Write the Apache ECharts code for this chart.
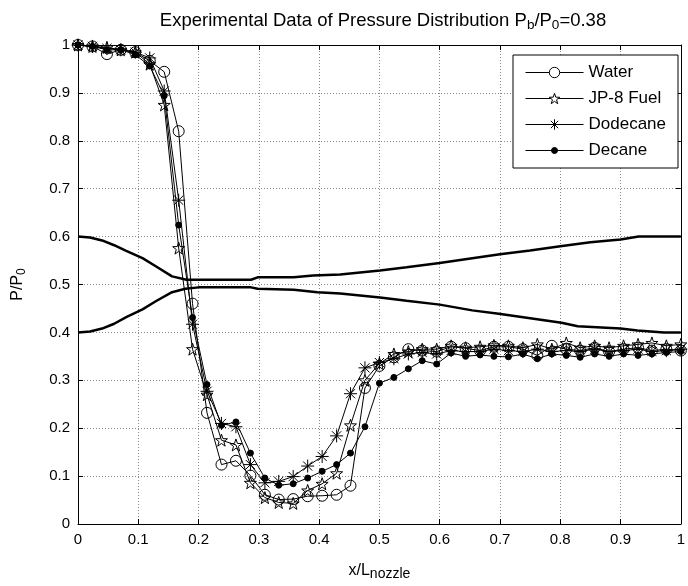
<!DOCTYPE html>
<html>
<head>
<meta charset="utf-8">
<script src="https://cdn.jsdelivr.net/npm/echarts@6/dist/echarts.min.js"></script>
<style>
  html, body { margin: 0; padding: 0; background: #fff; }
  #chart { width: 688px; height: 586px; }
</style>
</head>
<body>
<div id="chart"></div>
<script>
// measuring stations along the nozzle (x/L)
const stations = [0, 0.024, 0.048, 0.071, 0.095, 0.119, 0.143, 0.167, 0.190, 0.214,
  0.238, 0.262, 0.286, 0.310, 0.333, 0.357, 0.381, 0.405, 0.429, 0.452,
  0.476, 0.500, 0.524, 0.548, 0.571, 0.595, 0.619, 0.643, 0.667, 0.690,
  0.714, 0.738, 0.762, 0.786, 0.810, 0.833, 0.857, 0.881, 0.905, 0.929,
  0.952, 0.976, 1.000];

const water = [1.0, 0.997, 0.981, 0.99, 0.985, 0.967, 0.944, 0.82, 0.46, 0.232,
  0.124, 0.132, 0.101, 0.061, 0.051, 0.052, 0.058, 0.059, 0.061, 0.080,
  0.284, 0.330, 0.348, 0.365, 0.362, 0.360, 0.370, 0.367, 0.362, 0.370,
  0.370, 0.365, 0.352, 0.372, 0.365, 0.362, 0.368, 0.360, 0.365, 0.368,
  0.362, 0.365, 0.362];

const jp8 = [1.0, 0.997, 0.995, 0.99, 0.985, 0.96, 0.875, 0.576, 0.365, 0.27,
  0.175, 0.165, 0.086, 0.055, 0.045, 0.043, 0.070, 0.084, 0.106, 0.206,
  0.30, 0.335, 0.355, 0.36, 0.365, 0.365, 0.372, 0.368, 0.370, 0.373,
  0.372, 0.368, 0.375, 0.365, 0.378, 0.368, 0.372, 0.368, 0.372, 0.375,
  0.378, 0.372, 0.375];

const dodecane = [1.0, 0.997, 0.993, 0.99, 0.985, 0.973, 0.904, 0.676, 0.417, 0.277,
  0.210, 0.203, 0.124, 0.086, 0.089, 0.099, 0.121, 0.141, 0.184, 0.272,
  0.326, 0.337, 0.345, 0.355, 0.358, 0.355, 0.362, 0.36, 0.36, 0.365,
  0.362, 0.36, 0.365, 0.36, 0.362, 0.36, 0.365, 0.36, 0.362, 0.365,
  0.36, 0.362, 0.365];

const decane = [1.0, 0.997, 0.99, 0.99, 0.98, 0.956, 0.894, 0.624, 0.431, 0.291,
  0.206, 0.213, 0.148, 0.096, 0.081, 0.084, 0.096, 0.110, 0.124, 0.148,
  0.203, 0.294, 0.306, 0.324, 0.341, 0.334, 0.357, 0.350, 0.353, 0.350,
  0.349, 0.355, 0.345, 0.355, 0.352, 0.348, 0.355, 0.350, 0.355, 0.352,
  0.355, 0.358, 0.36];

// the two thick profile curves
const upperX = [0, 0.02, 0.04, 0.06, 0.08, 0.107, 0.129, 0.156, 0.18, 0.287, 0.298, 0.358,
  0.39, 0.435, 0.501, 0.545, 0.6, 0.654, 0.7, 0.75, 0.8, 0.85, 0.9, 0.93, 1.0];
const upperY = [0.6, 0.598, 0.592, 0.582, 0.57, 0.555, 0.538, 0.517, 0.51, 0.51, 0.515, 0.515,
  0.519, 0.521, 0.529, 0.536, 0.545, 0.555, 0.563, 0.571, 0.58, 0.588, 0.594, 0.6, 0.6];
const lowerX = [0, 0.02, 0.04, 0.06, 0.08, 0.107, 0.129, 0.156, 0.178, 0.2, 0.287, 0.298,
  0.358, 0.397, 0.435, 0.501, 0.545, 0.6, 0.654, 0.698, 0.753, 0.802, 0.829, 0.9, 0.928, 0.972, 1.0];
const lowerY = [0.4, 0.402, 0.408, 0.418, 0.432, 0.448, 0.465, 0.484, 0.491, 0.494, 0.494, 0.491,
  0.489, 0.484, 0.481, 0.473, 0.466, 0.458, 0.446, 0.439, 0.429, 0.42, 0.413, 0.408, 0.404, 0.4, 0.4];

const STAR = 'path://M0,-10 L2.35,-3.24 L9.51,-3.09 L3.8,1.24 L5.88,8.09 L0,4 L-5.88,8.09 L-3.8,1.24 L-9.51,-3.09 L-2.35,-3.24 Z';
const ASTERISK = 'path://M0,-10 L0,10 M-10,0 L10,0 M-7.07,-7.07 L7.07,7.07 M-7.07,7.07 L7.07,-7.07';
// legend icon for Decane: line with a small dot (the default legend dot is too big)
const DOT_LEGEND = 'path://M0,0 L58,0 M26,0 A3,3 0 1,1 32,0 A3,3 0 1,1 26,0 Z';

const font = 'Liberation Sans, Arial, sans-serif';

function pairs(xs, ys) {
  return xs.map((x, i) => [x, ys[i]]);
}

function dataLine(name, values, symbol, size, filled) {
  return {
    name: name,
    type: 'line',
    data: pairs(stations, values),
    symbol: symbol,
    symbolSize: size,
    showAllSymbol: true,
    lineStyle: { color: '#000', width: 1 },
    itemStyle: {
      color: filled ? '#000' : 'none',
      borderColor: '#000',
      borderWidth: 1
    },
    emphasis: { disabled: true },
    animation: false
  };
}

function profileLine(xs, ys) {
  return {
    type: 'line',
    data: pairs(xs, ys),
    symbol: 'none',
    lineStyle: { color: '#000', width: 2.5 },
    silent: true,
    animation: false
  };
}

const chart = echarts.init(document.getElementById('chart'));

const tickCfg = { show: true, inside: true, length: 5, lineStyle: { color: '#000' } };
const lineCfg = { show: true, onZero: false, lineStyle: { color: '#000', width: 1 } };
const hollow = { color: '#fff', borderColor: '#000', borderWidth: 1 };

chart.setOption({
  backgroundColor: '#fff',
  animation: false,
  title: {
    text: 'Experimental Data of Pressure Distribution P{sub|b}/P{sub|0}=0.38',
    left: 378,
    top: 5,
    textAlign: 'center',
    textStyle: {
      fontFamily: font, fontSize: 18.5, fontWeight: 'normal', color: '#000', lineHeight: 22,
      rich: { sub: { fontFamily: font, fontSize: 13.5, color: '#000', lineHeight: 22, verticalAlign: 'bottom', padding: [8, 0, 0, 0] } }
    }
  },
  legend: {
    data: [
      { name: 'Water', itemStyle: hollow },
      { name: 'JP-8 Fuel', itemStyle: hollow },
      { name: 'Dodecane', itemStyle: hollow },
      { name: 'Decane', icon: DOT_LEGEND, itemStyle: { color: '#000', borderColor: '#000', borderWidth: 1 } }
    ],
    orient: 'vertical',
    left: 513,
    top: 55,
    itemWidth: 58,
    itemHeight: 13,
    itemGap: 9,
    padding: [9, 12, 9, 12],
    borderColor: '#000',
    borderWidth: 1,
    borderRadius: 0,
    backgroundColor: '#fff',
    lineStyle: { color: '#000', width: 1 },
    textStyle: { fontFamily: font, fontSize: 17, color: '#000' }
  },
  grid: { left: 75, right: 3, top: 45, bottom: 59 },
  xAxis: [
    {
      type: 'value', min: 0, max: 1, interval: 0.1,
      name: 'x/L{sub|nozzle}', nameLocation: 'middle', nameGap: 37,
      nameTextStyle: {
        fontFamily: font, fontSize: 16, color: '#000', lineHeight: 20,
        rich: { sub: { fontFamily: font, fontSize: 14, color: '#000', lineHeight: 20, verticalAlign: 'bottom', padding: [9, 0, 0, 0] } }
      },
      axisLine: lineCfg,
      axisTick: tickCfg,
      axisLabel: { fontFamily: font, fontSize: 15, color: '#000', margin: 8 },
      splitLine: { show: true, lineStyle: { color: '#888', type: [1, 2], width: 1 } }
    },
    {
      type: 'value', min: 0, max: 1, interval: 0.1, position: 'top',
      axisLine: lineCfg, axisTick: tickCfg,
      axisLabel: { show: false }, splitLine: { show: false }
    }
  ],
  yAxis: [
    {
      type: 'value', min: 0, max: 1, interval: 0.1,
      name: 'P/P{sub|0}', nameLocation: 'middle', nameGap: 50,
      nameTextStyle: {
        fontFamily: font, fontSize: 16, color: '#000', lineHeight: 20,
        rich: { sub: { fontFamily: font, fontSize: 12, color: '#000', lineHeight: 20, verticalAlign: 'bottom', padding: [7, 0, 0, 0] } }
      },
      axisLine: lineCfg,
      axisTick: tickCfg,
      axisLabel: { fontFamily: font, fontSize: 15, color: '#000', margin: 8 },
      splitLine: { show: true, lineStyle: { color: '#888', type: [1, 2], width: 1 } }
    },
    {
      type: 'value', min: 0, max: 1, interval: 0.1, position: 'right',
      axisLine: lineCfg, axisTick: tickCfg,
      axisLabel: { show: false }, splitLine: { show: false }
    }
  ],
  series: [
    dataLine('Water', water, 'circle', 11, false),
    dataLine('JP-8 Fuel', jp8, STAR, 12, false),
    dataLine('Dodecane', dodecane, ASTERISK, 13, false),
    dataLine('Decane', decane, 'circle', 6, true),
    profileLine(upperX, upperY),
    profileLine(lowerX, lowerY)
  ]
});
</script>
</body>
</html>
